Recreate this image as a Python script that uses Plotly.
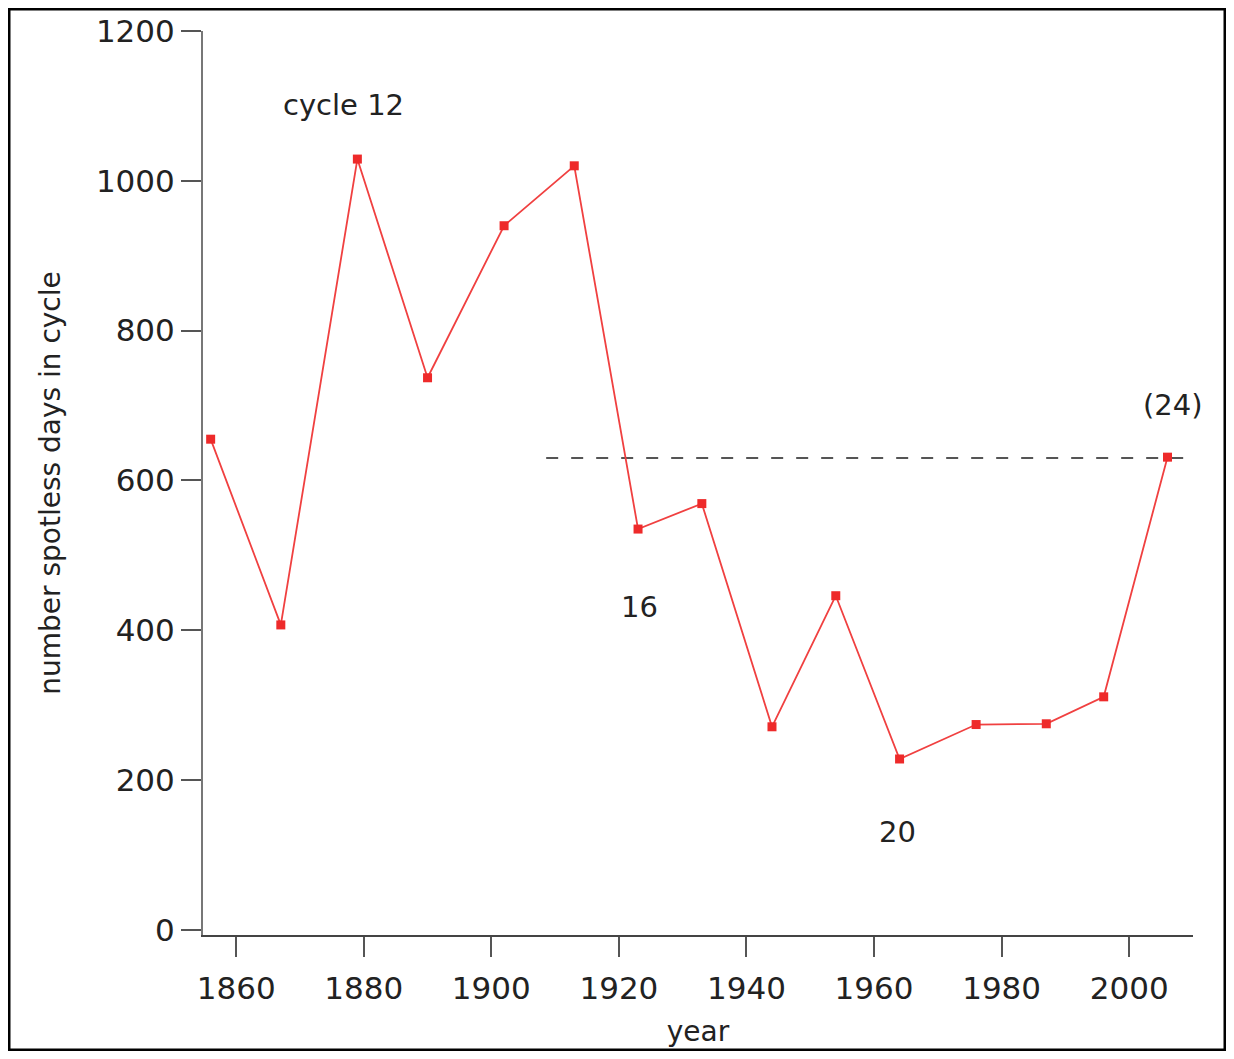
import plotly.graph_objects as go

years = [1856, 1867, 1879, 1890, 1902, 1913, 1923, 1933, 1944, 1954, 1964, 1976, 1987, 1996, 2006]
spotless_days = [655, 407, 1029, 737, 940, 1020, 535, 569, 271, 446, 228, 274, 275, 311, 631]
ref_line_years = [1908.6, 2010]
ref_line_value = [630, 630]
x_ticks = [1860, 1880, 1900, 1920, 1940, 1960, 1980, 2000]
y_ticks = [0, 200, 400, 600, 800, 1000, 1200]
labels = ["cycle 12", "16", "20", "(24)"]
label_x = [1876.9, 1923.3, 1963.7, 2006.8]
label_y = [1101, 431, 130, 701]

# page body has an 8px margin, so the figure is sized to fit inside the window
W, H = 1218, 1043
ml, mr, mt, mb = 195, 33, 23, 116
font = "DejaVu Sans"

fig = go.Figure()
fig.add_trace(go.Scatter(x=ref_line_years, y=ref_line_value, mode="lines",
                         line=dict(color="#555555", width=2, dash="12px,13px"),
                         showlegend=False, hoverinfo="skip"))
fig.add_trace(go.Scatter(x=years, y=spotless_days, mode="lines+markers",
                         line=dict(color="#f04040", width=1.8),
                         marker=dict(symbol="square", size=9, color="#ee2a2a"),
                         showlegend=False))

for t, x, y in zip(labels, label_x, label_y):
    fig.add_annotation(x=x, y=y, text=t, showarrow=False,
                       font=dict(family=font, size=29, color="#222222"))

pw = W - ml - mr
ph = H - mt - mb
fig.add_shape(type="rect", xref="paper", yref="paper",
              x0=(1 - ml) / pw, x1=(W - 1 - ml) / pw,
              y0=(1 - mb) / ph, y1=(H - 1 - mb) / ph,
              line=dict(color="black", width=3), fillcolor="rgba(0,0,0,0)")

fig.update_layout(
    width=W, height=H,
    margin=dict(l=ml, r=mr, t=mt, b=mb, autoexpand=False),
    paper_bgcolor="white", plot_bgcolor="white",
    font=dict(family=font, size=28, color="#222222"),
    xaxis=dict(range=[1854.8, 2010], tickvals=x_ticks, ticks="outside",
               ticklen=20, tickcolor="#555555", tickwidth=2,
               showline=True, linecolor="#444444", linewidth=2,
               showgrid=False, zeroline=False, automargin=False,
               ticklabelstandoff=5,
               title=dict(text="year", font=dict(size=28), standoff=16),
               tickfont=dict(size=31)),
    yaxis=dict(range=[-7, 1200], tickvals=y_ticks, ticks="outside",
               ticklen=20, tickcolor="#555555", tickwidth=2,
               showline=True, linecolor="#777777", linewidth=2,
               showgrid=False, zeroline=False, automargin=False,
               title=dict(text="number spotless days in cycle", font=dict(size=28), standoff=27),
               tickfont=dict(size=31)),
)

fig.write_html("out.html")
